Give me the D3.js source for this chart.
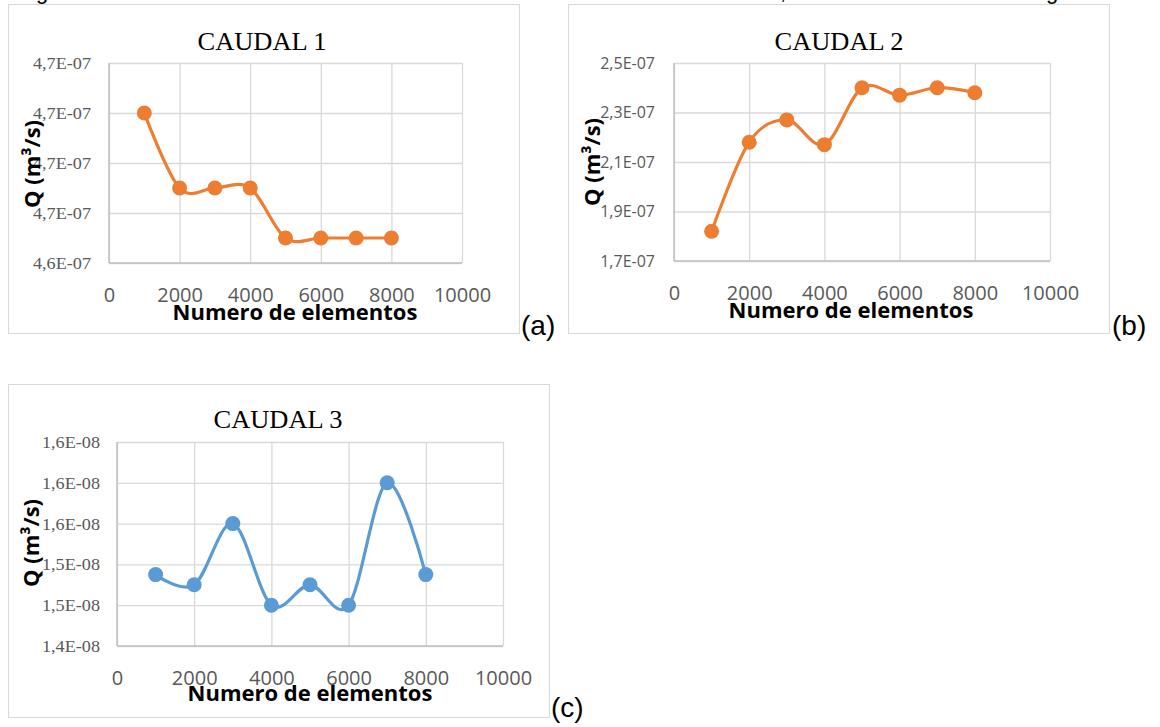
<!DOCTYPE html>
<html>
<head>
<meta charset="utf-8">
<script src="https://cdn.jsdelivr.net/npm/d3@7"></script>
<style>
  body { margin: 0; background: #fff; }
  svg { display: block; }
</style>
</head>
<body>
<div class="canvas"></div>
<script>
// numero de elementos (eje x)
var elementos = [1000, 2000, 3000, 4000, 5000, 6000, 7000, 8000];
var xTicks = [0, 2000, 4000, 6000, 8000, 10000];

// caudal 1 (m3/s)
var caudal1 = [4.70e-7, 4.67e-7, 4.67e-7, 4.67e-7, 4.65e-7, 4.65e-7, 4.65e-7, 4.65e-7];
var caudal1Ticks = [4.64e-7, 4.66e-7, 4.68e-7, 4.70e-7, 4.72e-7];
var caudal1Labels = ["4,6E-07", "4,7E-07", "4,7E-07", "4,7E-07", "4,7E-07"];

// caudal 2 (m3/s)
var caudal2 = [1.82e-7, 2.18e-7, 2.27e-7, 2.17e-7, 2.40e-7, 2.37e-7, 2.40e-7, 2.38e-7];
var caudal2Ticks = [1.7e-7, 1.9e-7, 2.1e-7, 2.3e-7, 2.5e-7];
var caudal2Labels = ["1,7E-07", "1,9E-07", "2,1E-07", "2,3E-07", "2,5E-07"];

// caudal 3 (m3/s)
var caudal3 = [1.51e-8, 1.50e-8, 1.56e-8, 1.48e-8, 1.50e-8, 1.48e-8, 1.60e-8, 1.51e-8];
var caudal3Ticks = [1.44e-8, 1.48e-8, 1.52e-8, 1.56e-8, 1.60e-8, 1.64e-8];
var caudal3Labels = ["1,4E-08", "1,5E-08", "1,5E-08", "1,6E-08", "1,6E-08", "1,6E-08"];

var svg = d3.select("body div.canvas").append("svg")
  .attr("width", 1160)
  .attr("height", 727);

// restos de la linea de texto cortada arriba
svg.append("g")
  .style("font-family", "Liberation Sans, Arial")
  .style("font-size", "22px")
  .selectAll("text")
  .data([["g", 36], [",", 780], ["g", 1046]])
  .join("text")
  .attr("x", function(d) { return d[1]; })
  .attr("y", -1)
  .text(function(d) { return d[0]; });

function drawChart(opt) {
  var g = svg.append("g");

  // marco del grafico
  g.append("rect")
    .attr("x", opt.box[0] + 0.5)
    .attr("y", opt.box[1] + 0.5)
    .attr("width", opt.box[2] - opt.box[0])
    .attr("height", opt.box[3] - opt.box[1])
    .attr("fill", "#fff")
    .attr("stroke", "#d9d9d9")
    .attr("stroke-width", 1);

  var x = d3.scaleLinear().domain([0, 10000]).range([opt.plot[0], opt.plot[1]]);
  var y = d3.scaleLinear().domain([opt.yTicks[0], opt.yTicks[opt.yTicks.length - 1]])
    .range([opt.plot[3], opt.plot[2]]);
  var w = opt.plot[1] - opt.plot[0];
  var h = opt.plot[3] - opt.plot[2];

  // eje y + rejilla horizontal
  var yAxis = g.append("g")
    .attr("transform", "translate(" + opt.plot[0] + ",0)")
    .call(d3.axisLeft(y)
      .tickValues(opt.yTicks)
      .tickSize(-w)
      .tickPadding(opt.yPad)
      .tickFormat(function(d, i) { return opt.yLabels[i]; }));
  yAxis.select(".domain").remove();
  yAxis.selectAll("line").attr("stroke", "#d9d9d9").attr("stroke-width", 1.3);
  var yText = yAxis.selectAll("text")
    .attr("fill", "#595959")
    .style("font-family", opt.yFont)
    .style("font-size", opt.yFontSize + "px");
  if (opt.yLen) {
    yText.attr("textLength", opt.yLen).attr("lengthAdjust", "spacingAndGlyphs");
  }

  // eje x + rejilla vertical
  var xAxis = g.append("g")
    .attr("transform", "translate(0," + opt.plot[3] + ")")
    .call(d3.axisBottom(x)
      .tickValues(xTicks)
      .tickSize(-h)
      .tickPadding(25)
      .tickFormat(d3.format("d")));
  xAxis.select(".domain").remove();
  xAxis.selectAll("line").attr("stroke", "#d9d9d9").attr("stroke-width", 1.3);
  xAxis.selectAll("text")
    .attr("fill", "#595959")
    .style("font-family", "Open Sans, sans-serif")
    .style("font-size", "20px");

  // lineas de eje
  g.append("line")
    .attr("x1", opt.plot[0]).attr("x2", opt.plot[1])
    .attr("y1", opt.plot[3]).attr("y2", opt.plot[3])
    .attr("stroke", "#bfbfbf").attr("stroke-width", 1.5);
  g.append("line")
    .attr("x1", opt.plot[0]).attr("x2", opt.plot[0])
    .attr("y1", opt.plot[2]).attr("y2", opt.plot[3])
    .attr("stroke", "#bfbfbf").attr("stroke-width", 1.5);

  // serie suavizada
  var line = d3.line()
    .x(function(d, i) { return x(elementos[i]); })
    .y(function(d) { return y(d); })
    .curve(d3.curveCardinal.tension(0));
  g.append("path")
    .datum(opt.values)
    .attr("d", line)
    .attr("fill", "none")
    .attr("stroke", opt.color)
    .attr("stroke-width", 3.2)
    .attr("stroke-linecap", "round");
  g.selectAll("circle.pt")
    .data(opt.values)
    .join("circle")
    .attr("class", "pt")
    .attr("cx", function(d, i) { return x(elementos[i]); })
    .attr("cy", function(d) { return y(d); })
    .attr("r", 7.5)
    .attr("fill", opt.color);

  // titulo
  g.append("text")
    .attr("x", opt.title[1])
    .attr("y", opt.title[2])
    .attr("text-anchor", "middle")
    .attr("textLength", 129)
    .attr("lengthAdjust", "spacingAndGlyphs")
    .style("font-family", "Liberation Serif, Times New Roman, serif")
    .style("font-size", "25px")
    .attr("fill", "#000")
    .text(opt.title[0]);

  // titulo eje x
  g.append("text")
    .attr("x", opt.xTitle[0])
    .attr("y", opt.xTitle[1])
    .attr("text-anchor", "middle")
    .style("font-family", "Open Sans, sans-serif")
    .style("font-weight", "bold")
    .style("font-size", "22px")
    .attr("fill", "#000")
    .text("Numero de elementos");

  // titulo eje y (se superpone a las etiquetas, como en el original)
  g.append("text")
    .attr("transform", "translate(" + opt.yTitle[0] + "," + opt.yTitle[1] + ") rotate(-90)")
    .attr("text-anchor", "middle")
    .style("font-family", "Open Sans, sans-serif")
    .style("font-weight", "bold")
    .style("font-size", "22px")
    .attr("fill", "#000")
    .text("Q (m³/s)");

  // letra del panel
  g.append("text")
    .attr("x", opt.tag[1])
    .attr("y", opt.tag[2])
    .style("font-family", "Liberation Sans, Arial, sans-serif")
    .style("font-size", "28px")
    .attr("fill", "#000")
    .text(opt.tag[0]);
}

drawChart({
  box: [8, 4, 519, 333],
  plot: [109, 462, 63, 263],
  values: caudal1, yTicks: caudal1Ticks, yLabels: caudal1Labels,
  yFont: "Liberation Serif, Times New Roman, serif", yFontSize: 17, yPad: 18, yLen: 58,
  color: "#ed7d31",
  title: ["CAUDAL 1", 262, 50],
  xTitle: [295, 320],
  yTitle: [40, 164],
  tag: ["(a)", 521, 335]
});

drawChart({
  box: [568, 4, 1109, 333],
  plot: [674, 1050, 63, 261],
  values: caudal2, yTicks: caudal2Ticks, yLabels: caudal2Labels,
  yFont: "Open Sans, sans-serif", yFontSize: 16, yPad: 19, yLen: null,
  color: "#ed7d31",
  title: ["CAUDAL 2", 839, 50],
  xTitle: [851, 318],
  yTitle: [600, 162],
  tag: ["(b)", 1112, 335]
});

drawChart({
  box: [8, 384, 549, 717],
  plot: [117, 503, 442, 646],
  values: caudal3, yTicks: caudal3Ticks, yLabels: caudal3Labels,
  yFont: "Liberation Serif, Times New Roman, serif", yFontSize: 17, yPad: 17, yLen: 58,
  color: "#5b9bd5",
  title: ["CAUDAL 3", 278, 428],
  xTitle: [310, 701],
  yTitle: [39, 543],
  tag: ["(c)", 551, 717]
});
</script>
</body>
</html>
